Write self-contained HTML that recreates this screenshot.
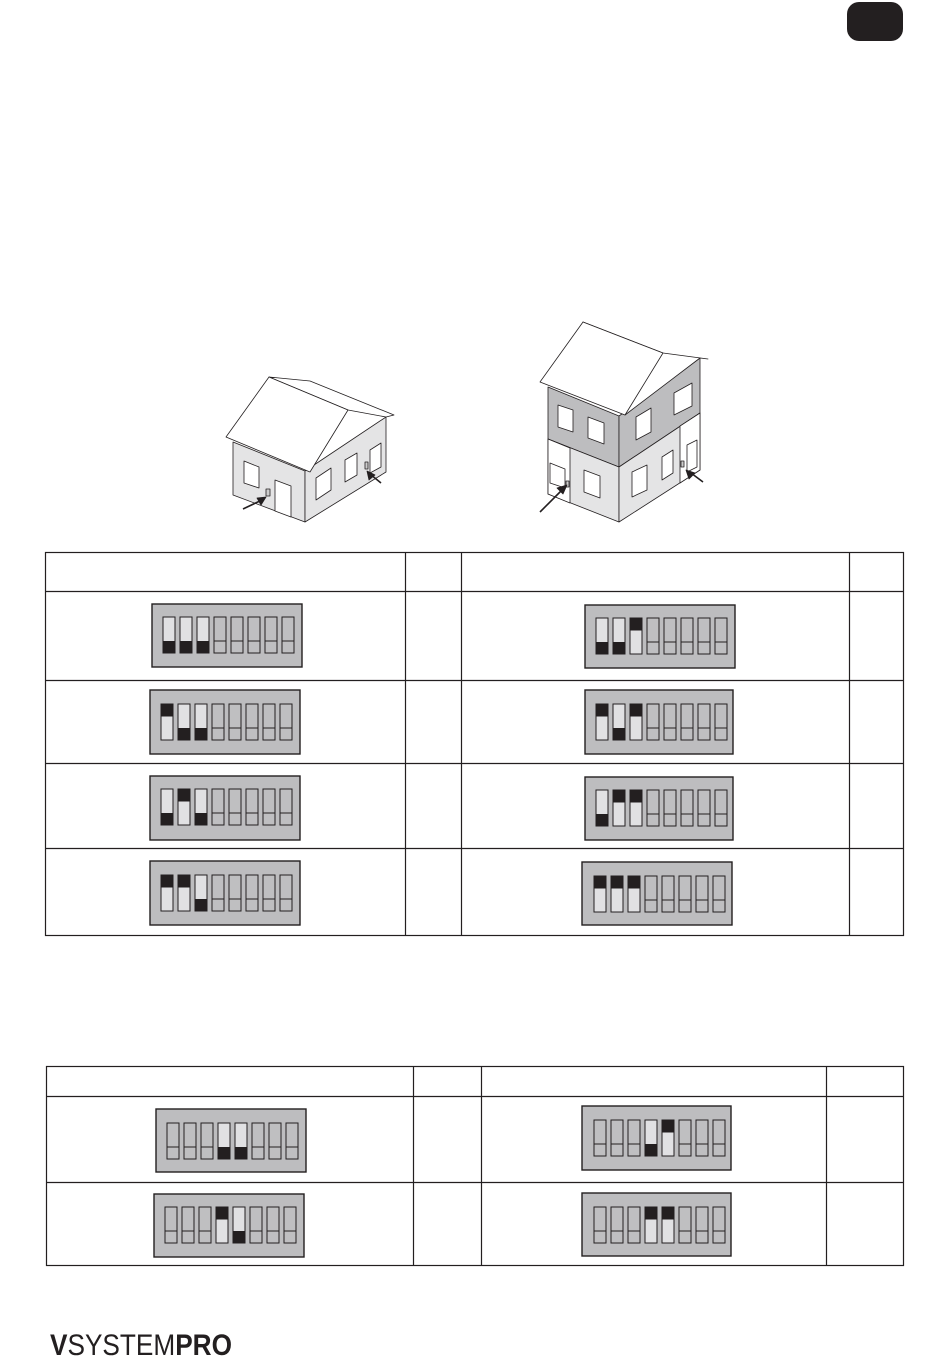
<!DOCTYPE html>
<html><head><meta charset="utf-8"><style>
html,body{margin:0;padding:0;background:#fff;}
svg{display:block;}
</style></head><body>
<svg width="950" height="1364" viewBox="0 0 950 1364" xmlns="http://www.w3.org/2000/svg">
<defs>
<symbol id="N" overflow="visible"><rect x="0" y="0" width="12" height="36" fill="#bfbfc1" stroke="#231f20" stroke-width="1"/><line x1="0" y1="24" x2="12" y2="24" stroke="#231f20" stroke-width="1"/></symbol>
<symbol id="D" overflow="visible"><rect x="0" y="0" width="12" height="36" fill="#e1e1e3" stroke="#231f20" stroke-width="1"/><rect x="0" y="24" width="12" height="12" fill="#231f20"/></symbol>
<symbol id="U" overflow="visible"><rect x="0" y="0" width="12" height="36" fill="#e1e1e3" stroke="#231f20" stroke-width="1"/><rect x="0" y="0" width="12" height="12.5" fill="#231f20"/></symbol>
</defs>
<rect x="847" y="2" width="56" height="39" rx="12" fill="#231f20"/>

<!-- House 1 -->
<g stroke="#231f20" stroke-width="0.8" stroke-linejoin="round">
<polygon points="233,442 305,471 305,522 233,495" fill="#e4e4e5"/>
<polygon points="305,471 386,417 386,472 305,522" fill="#e4e4e5"/>
<polygon points="269,377 310,381 394,415 386,417 348,410" fill="#fff"/>
<polygon points="226,437 269,377 348,410 310,472" fill="#fff"/>
<polygon points="244,461 259,467 259,488 244,483" fill="#fff"/>
<polygon points="275,480 291,486 291,517 275,511" fill="#fff"/>
<polygon points="316,478 331,468 331,490 316,500" fill="#fff"/>
<polygon points="345,460 357,453 357,475 345,482" fill="#fff"/>
<polygon points="370,450 381,443 381,467 370,473" fill="#fff"/>
<rect x="266" y="489" width="4" height="7" fill="#ccc"/>
<rect x="365" y="462" width="3" height="7" fill="#ccc"/>
<line x1="243" y1="509" x2="262" y2="500" stroke-width="1.6"/>
<polygon points="266,497 257,498 261,505" fill="#231f20"/>
<line x1="381" y1="483" x2="370" y2="474" stroke-width="1.6"/>
<polygon points="367,471 369,480 375,475" fill="#231f20"/>
</g>

<!-- House 2 -->
<g stroke="#231f20" stroke-width="0.8" stroke-linejoin="round">
<polygon points="548,387 619,416 619,467 548,439" fill="#bdbdbf"/>
<polygon points="619,416 700,358 700,413 619,467" fill="#bdbdbf"/>
<polygon points="548,439 619,467 619,522 548,494" fill="#e4e4e5"/>
<polygon points="548,439 570,448 570,503 548,494" fill="#fff"/>
<polygon points="619,467 700,413 700,470 619,522" fill="#e4e4e5"/>
<polygon points="680,426 700,413 700,470 680,483" fill="#fff"/>
<polygon points="583,322 663,353 708,359 700,358 625,415" fill="#fff"/>
<polygon points="540,382 583,322 663,353 625,415" fill="#fff"/>
<polygon points="558,405 573,410 573,432 558,427" fill="#fff"/>
<polygon points="588,417 604,423 604,444 588,438" fill="#fff"/>
<polygon points="636,417 651,408 651,432 636,440" fill="#fff"/>
<polygon points="674,393 692,383 692,406 674,415" fill="#fff"/>
<polygon points="550,463 565,469 565,488 550,483" fill="#fff"/>
<polygon points="584,470 600,476 600,498 584,492" fill="#fff"/>
<polygon points="632,472 647,465 647,490 632,497" fill="#fff"/>
<polygon points="662,457 673,450 673,473 662,480" fill="#fff"/>
<polygon points="687,445 697,440 697,467 687,472" fill="#fff"/>
<rect x="566" y="481" width="3" height="6" fill="#ccc"/>
<rect x="681" y="461" width="3" height="6" fill="#ccc"/>
<line x1="540" y1="512" x2="562" y2="490" stroke-width="1.6"/>
<polygon points="567,485 557,488 563,494" fill="#231f20"/>
<line x1="703" y1="482" x2="691" y2="473" stroke-width="1.6"/>
<polygon points="686,470 689,479 695,473" fill="#231f20"/>
</g>

<!-- Table 1 -->
<g stroke="#231f20" stroke-width="1.2" fill="none">
<rect x="45.5" y="552.5" width="858" height="383"/>
<line x1="405.5" y1="552" x2="405.5" y2="935"/>
<line x1="461.5" y1="552" x2="461.5" y2="935"/>
<line x1="849.5" y1="552" x2="849.5" y2="935"/>
<line x1="45" y1="591.5" x2="903" y2="591.5"/>
<line x1="45" y1="680.5" x2="903" y2="680.5"/>
<line x1="45" y1="763.5" x2="903" y2="763.5"/>
<line x1="45" y1="848.5" x2="903" y2="848.5"/>
</g>
<!-- Table 2 -->
<g stroke="#231f20" stroke-width="1.2" fill="none">
<rect x="46.5" y="1066.5" width="857" height="199"/>
<line x1="413.5" y1="1066" x2="413.5" y2="1265"/>
<line x1="481.5" y1="1066" x2="481.5" y2="1265"/>
<line x1="826.5" y1="1066" x2="826.5" y2="1265"/>
<line x1="46" y1="1096.5" x2="903" y2="1096.5"/>
<line x1="46" y1="1182.5" x2="903" y2="1182.5"/>
</g>

<g transform="translate(152,604)"><rect x="0" y="0" width="150" height="63" fill="#bdbdbf" stroke="#231f20" stroke-width="1.4"/>
<use href="#D" x="11" y="13"/><use href="#D" x="28" y="13"/><use href="#D" x="45" y="13"/><use href="#N" x="62" y="13"/><use href="#N" x="79" y="13"/><use href="#N" x="96" y="13"/><use href="#N" x="113" y="13"/><use href="#N" x="130" y="13"/></g>
<g transform="translate(585,605)"><rect x="0" y="0" width="150" height="63" fill="#bdbdbf" stroke="#231f20" stroke-width="1.4"/>
<use href="#D" x="11" y="13"/><use href="#D" x="28" y="13"/><use href="#U" x="45" y="13"/><use href="#N" x="62" y="13"/><use href="#N" x="79" y="13"/><use href="#N" x="96" y="13"/><use href="#N" x="113" y="13"/><use href="#N" x="130" y="13"/></g>
<g transform="translate(150,690)"><rect x="0" y="0" width="150" height="64" fill="#bdbdbf" stroke="#231f20" stroke-width="1.4"/>
<use href="#U" x="11" y="14"/><use href="#D" x="28" y="14"/><use href="#D" x="45" y="14"/><use href="#N" x="62" y="14"/><use href="#N" x="79" y="14"/><use href="#N" x="96" y="14"/><use href="#N" x="113" y="14"/><use href="#N" x="130" y="14"/></g>
<g transform="translate(585,690)"><rect x="0" y="0" width="148" height="64" fill="#bdbdbf" stroke="#231f20" stroke-width="1.4"/>
<use href="#U" x="11" y="14"/><use href="#D" x="28" y="14"/><use href="#U" x="45" y="14"/><use href="#N" x="62" y="14"/><use href="#N" x="79" y="14"/><use href="#N" x="96" y="14"/><use href="#N" x="113" y="14"/><use href="#N" x="130" y="14"/></g>
<g transform="translate(150,776)"><rect x="0" y="0" width="150" height="64" fill="#bdbdbf" stroke="#231f20" stroke-width="1.4"/>
<use href="#D" x="11" y="13"/><use href="#U" x="28" y="13"/><use href="#D" x="45" y="13"/><use href="#N" x="62" y="13"/><use href="#N" x="79" y="13"/><use href="#N" x="96" y="13"/><use href="#N" x="113" y="13"/><use href="#N" x="130" y="13"/></g>
<g transform="translate(585,777)"><rect x="0" y="0" width="148" height="63" fill="#bdbdbf" stroke="#231f20" stroke-width="1.4"/>
<use href="#D" x="11" y="13"/><use href="#U" x="28" y="13"/><use href="#U" x="45" y="13"/><use href="#N" x="62" y="13"/><use href="#N" x="79" y="13"/><use href="#N" x="96" y="13"/><use href="#N" x="113" y="13"/><use href="#N" x="130" y="13"/></g>
<g transform="translate(150,861)"><rect x="0" y="0" width="150" height="64" fill="#bdbdbf" stroke="#231f20" stroke-width="1.4"/>
<use href="#U" x="11" y="14"/><use href="#U" x="28" y="14"/><use href="#D" x="45" y="14"/><use href="#N" x="62" y="14"/><use href="#N" x="79" y="14"/><use href="#N" x="96" y="14"/><use href="#N" x="113" y="14"/><use href="#N" x="130" y="14"/></g>
<g transform="translate(582,862)"><rect x="0" y="0" width="150" height="63" fill="#bdbdbf" stroke="#231f20" stroke-width="1.4"/>
<use href="#U" x="12" y="14"/><use href="#U" x="29" y="14"/><use href="#U" x="46" y="14"/><use href="#N" x="63" y="14"/><use href="#N" x="80" y="14"/><use href="#N" x="97" y="14"/><use href="#N" x="114" y="14"/><use href="#N" x="131" y="14"/></g>

<g transform="translate(156,1109)"><rect x="0" y="0" width="150" height="63" fill="#bdbdbf" stroke="#231f20" stroke-width="1.4"/>
<use href="#N" x="11" y="14"/><use href="#N" x="28" y="14"/><use href="#N" x="45" y="14"/><use href="#D" x="62" y="14"/><use href="#D" x="79" y="14"/><use href="#N" x="96" y="14"/><use href="#N" x="113" y="14"/><use href="#N" x="130" y="14"/></g>
<g transform="translate(582,1106)"><rect x="0" y="0" width="149" height="64" fill="#bdbdbf" stroke="#231f20" stroke-width="1.4"/>
<use href="#N" x="12" y="14"/><use href="#N" x="29" y="14"/><use href="#N" x="46" y="14"/><use href="#D" x="63" y="14"/><use href="#U" x="80" y="14"/><use href="#N" x="97" y="14"/><use href="#N" x="114" y="14"/><use href="#N" x="131" y="14"/></g>
<g transform="translate(154,1194)"><rect x="0" y="0" width="150" height="63" fill="#bdbdbf" stroke="#231f20" stroke-width="1.4"/>
<use href="#N" x="11" y="13"/><use href="#N" x="28" y="13"/><use href="#N" x="45" y="13"/><use href="#U" x="62" y="13"/><use href="#D" x="79" y="13"/><use href="#N" x="96" y="13"/><use href="#N" x="113" y="13"/><use href="#N" x="130" y="13"/></g>
<g transform="translate(582,1193)"><rect x="0" y="0" width="149" height="63" fill="#bdbdbf" stroke="#231f20" stroke-width="1.4"/>
<use href="#N" x="12" y="14"/><use href="#N" x="29" y="14"/><use href="#N" x="46" y="14"/><use href="#U" x="63" y="14"/><use href="#U" x="80" y="14"/><use href="#N" x="97" y="14"/><use href="#N" x="114" y="14"/><use href="#N" x="131" y="14"/></g>

<text x="50" y="1355" font-family="Liberation Sans, sans-serif" font-size="30" fill="#231f20" textLength="182" lengthAdjust="spacingAndGlyphs"><tspan font-weight="bold">V</tspan><tspan font-weight="normal">SYSTEM</tspan><tspan font-weight="bold">PRO</tspan></text>
</svg>
</body></html>
